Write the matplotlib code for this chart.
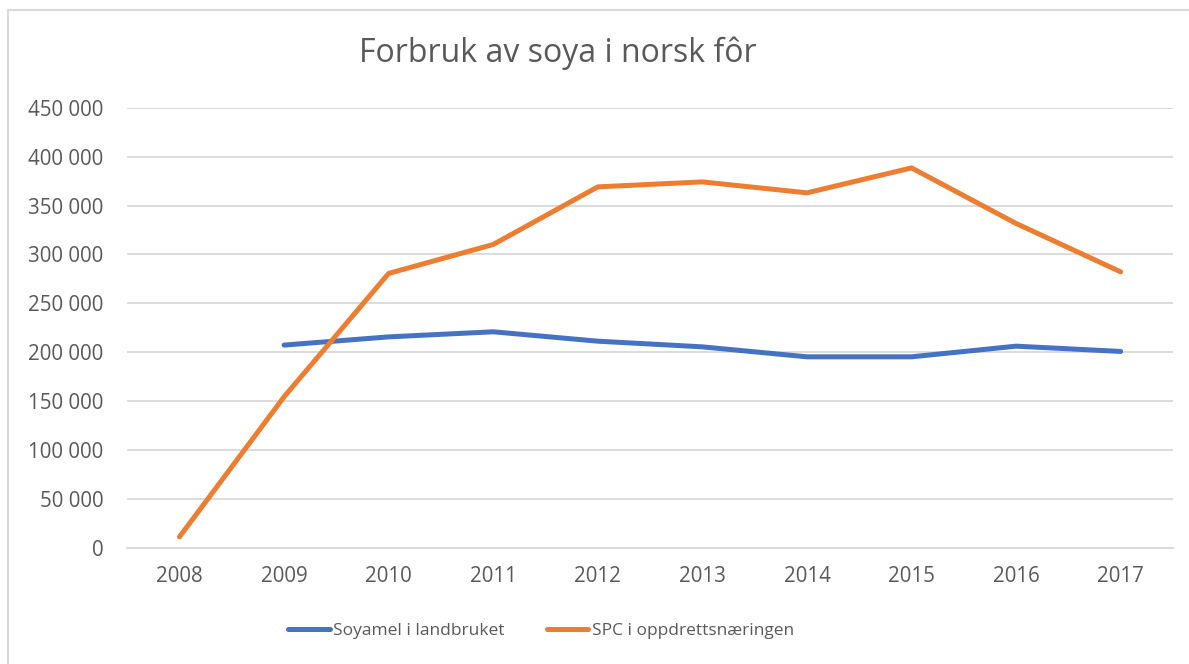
import matplotlib.pyplot as plt
from matplotlib.ticker import FuncFormatter
from matplotlib.lines import Line2D

# Data
years = ['2008', '2009', '2010', '2011', '2012', '2013', '2014', '2015', '2016', '2017']
soyamel = [None, 207300, 215700, 220900, 211300, 205500, 195300, 195300, 206200, 200800]
spc = [11200, 154400, 280600, 310200, 369100, 374200, 363000, 388500, 331700, 282200]
labels = ['Soyamel i landbruket', 'SPC i oppdrettsnæringen']
title = 'Forbruk av soya i norsk fôr'

blue = '#4472c4'
orange = '#ed7d31'
text_gray = '#595959'
grid_gray = '#d9d9d9'

plt.rcParams['font.family'] = ['Open Sans', 'DejaVu Sans']

fig = plt.figure(figsize=(11.89, 6.64), dpi=100)
ax = fig.add_axes([0.107, 0.175, 0.8795, 0.6627])

x = list(range(len(years)))
xs_blue = [i for i, v in zip(x, soyamel) if v is not None]
ys_blue = [v for v in soyamel if v is not None]

ax.plot(xs_blue, ys_blue, color=blue, lw=3.6, solid_capstyle='round',
        solid_joinstyle='round', label=labels[0])
ax.plot(x, spc, color=orange, lw=3.6, solid_capstyle='round',
        solid_joinstyle='round', label=labels[1])

ax.set_xlim(-0.5, len(years) - 0.5)
ax.set_ylim(0, 450000)
ax.set_yticks(range(0, 450001, 50000))
ax.yaxis.set_major_formatter(FuncFormatter(lambda v, p: f'{int(v):,}'.replace(',', ' ')))
ax.set_xticks(x)
ax.set_xticklabels(years)

ax.grid(axis='y', color=grid_gray, lw=1.3)
ax.set_axisbelow(True)
for s in ['top', 'right', 'left']:
    ax.spines[s].set_visible(False)
ax.spines['bottom'].set_color(grid_gray)
ax.spines['bottom'].set_linewidth(1.3)
ax.tick_params(axis='both', length=0, labelsize=14.8, colors=text_gray)
ax.tick_params(axis='y', pad=17)
ax.tick_params(axis='x', pad=13)

fig.text(0.469, 1 - 62 / 664, title, ha='center', va='baseline', fontsize=23, color=text_gray)

fig.legend(loc='center', bbox_to_anchor=(0.455, 0.05), ncol=2, frameon=False,
           fontsize=12.5, handlelength=2.4, handletextpad=0.2, columnspacing=2.4,
           labelcolor=text_gray)

# chart border: only top and left edges fall inside the picture
fig.add_artist(Line2D([8 / 1189, 1], [1 - 10 / 664, 1 - 10 / 664], transform=fig.transFigure,
                      color=grid_gray, lw=1.5))
fig.add_artist(Line2D([8 / 1189, 8 / 1189], [0, 1 - 10 / 664], transform=fig.transFigure,
                      color=grid_gray, lw=1.5))

fig.savefig('out.png', dpi=100)
